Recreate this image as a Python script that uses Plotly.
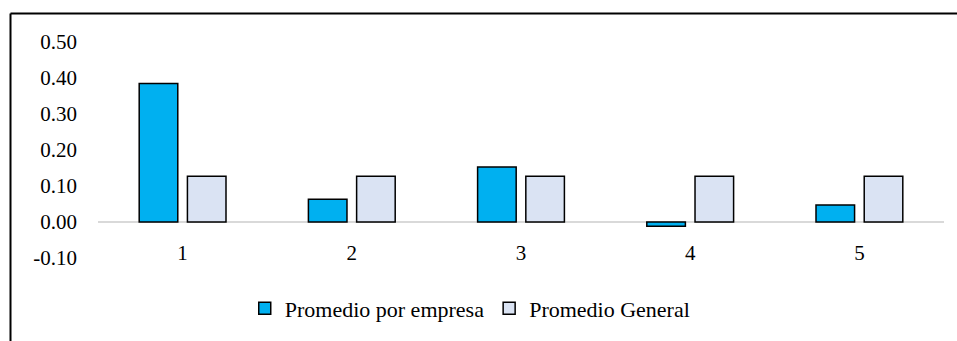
import plotly.graph_objects as go

categories = ["1", "2", "3", "4", "5"]
promedio_empresa = [0.385, 0.063, 0.153, -0.012, 0.047]
promedio_general = [0.127, 0.127, 0.127, 0.127, 0.127]
y_ticks = [-0.1, 0.0, 0.1, 0.2, 0.3, 0.4, 0.5]
y_tick_labels = ["-0.10", "0.00", "0.10", "0.20", "0.30", "0.40", "0.50"]

FONT = "Liberation Serif"

fig = go.Figure()
fig.add_trace(go.Bar(
    x=categories, y=promedio_empresa, name="Promedio por empresa",
    marker=dict(color="#00B0F0", line=dict(color="black", width=1.5)),
))
fig.add_trace(go.Bar(
    x=categories, y=promedio_general, name="Promedio General",
    marker=dict(color="#DAE3F3", line=dict(color="black", width=1.5)),
))

W, H = 957, 341
L, R, T, B = 98, 13, 42, 80

fig.update_layout(
    width=W, height=H,
    margin=dict(l=L, r=R, t=T, b=B, pad=0),
    paper_bgcolor="white", plot_bgcolor="white",
    barmode="group", bargap=0.43, bargroupgap=0.2,
    font=dict(family=FONT, size=21, color="black"),
    showlegend=True,
    legend=dict(orientation="h", x=0.44, xanchor="center", y=-0.233, yanchor="middle",
                font=dict(family=FONT, size=22, color="black"),
                itemwidth=30, bgcolor="rgba(0,0,0,0)"),
    xaxis=dict(type="category", showgrid=False, showline=False, zeroline=False,
               ticks="", anchor="free", position=(261 - 224) / 219,
               ticklabelstandoff=16,
               tickfont=dict(family=FONT, size=21, color="black")),
    yaxis=dict(range=[-0.1, 0.5], tickvals=y_ticks, ticktext=y_tick_labels,
               showgrid=False, showline=False, ticks="",
               zeroline=True, zerolinecolor="#D9D9D9", zerolinewidth=1.5,
               ticklabelstandoff=20,
               tickfont=dict(family=FONT, size=21, color="black")),
    shapes=[
        dict(type="line", xref="paper", yref="paper",
             x0=(10.5 - L) / 846, x1=1.05, y0=1 + 29 / 219, y1=1 + 29 / 219,
             line=dict(color="black", width=2)),
        dict(type="line", xref="paper", yref="paper",
             x0=(10.5 - L) / 846, x1=(10.5 - L) / 846, y0=1 + 29 / 219, y1=-0.5,
             line=dict(color="black", width=2)),
    ],
)

fig.write_html("out.html")
